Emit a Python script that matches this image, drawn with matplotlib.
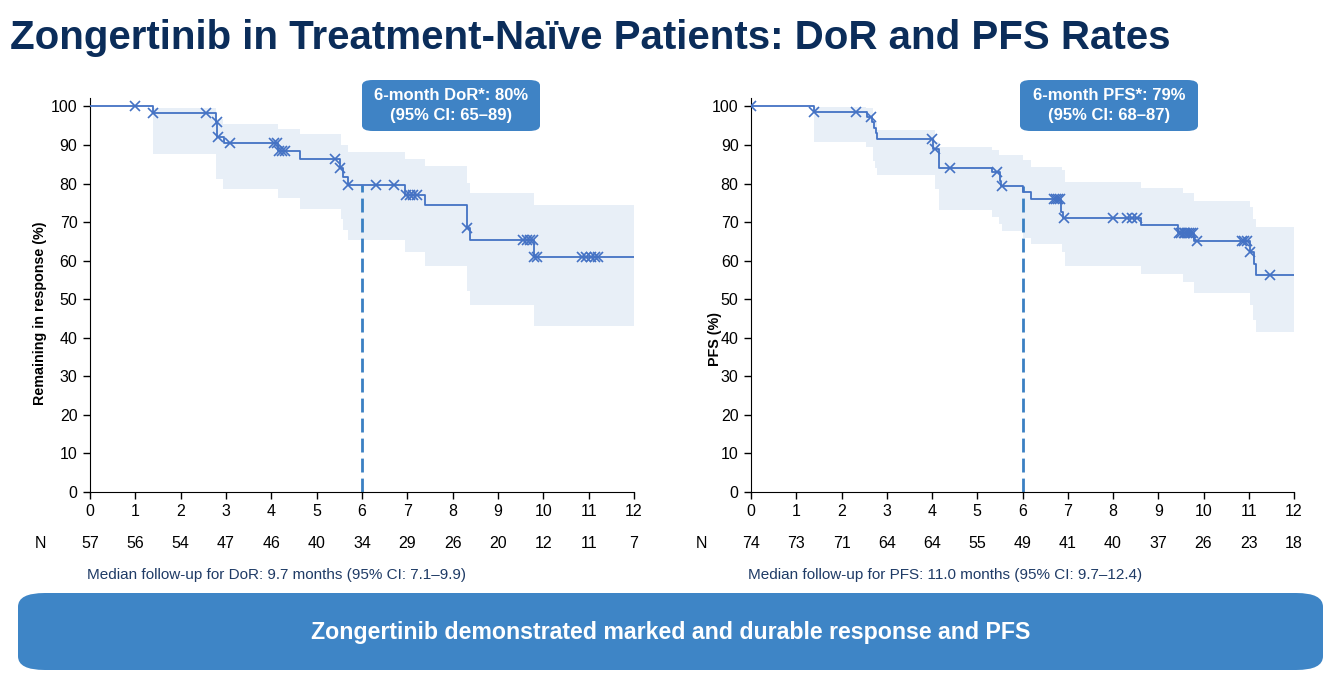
import numpy as np
import matplotlib
matplotlib.use("Agg")
import matplotlib.pyplot as plt
from matplotlib.patches import FancyBboxPatch
from matplotlib import transforms

plt.rcParams['font.family'] = ['Liberation Sans', 'DejaVu Sans']

# ---- DoR (left panel) ----
dor_t = [0, 1.38, 2.79, 2.81, 2.95, 4.15, 4.64, 5.52, 5.57, 5.69, 6.95, 7.40, 8.32, 8.38, 9.80, 12.0]
dor_s = [100, 98.2, 96.0, 92.2, 90.4, 88.4, 86.3, 84.0, 81.7, 79.6, 77.1, 74.4, 68.4, 65.3, 61.0, 61.0]
dor_censor = [0.99, 1.40, 2.56, 2.80, 2.83, 3.09, 4.05, 4.12, 4.18, 4.24, 4.30, 5.40, 5.52, 5.69,
              6.31, 6.71, 6.96, 7.06, 7.13, 7.21, 8.32, 9.56, 9.63, 9.70, 9.78, 9.80, 9.86,
              10.85, 10.95, 11.05, 11.13, 11.21]
dor_ci_t = [1.38, 2.79, 2.94, 4.15, 4.64, 5.53, 5.57, 5.69, 6.95, 7.40, 8.32, 8.38, 9.80, 12.0]
dor_ci_hi = [99.5, 96.8, 95.5, 94.2, 92.9, 89.9, 89.9, 88.3, 86.3, 84.5, 80.1, 77.6, 74.5, 74.5]
dor_ci_lo = [87.6, 81.3, 78.7, 76.3, 73.5, 70.9, 67.9, 65.3, 62.3, 58.6, 52.2, 48.4, 43.0, 43.0]
dor_n = [57, 56, 54, 47, 46, 40, 34, 29, 26, 20, 12, 11, 7]

# ---- PFS (right panel) ----
pfs_t = [0, 1.40, 2.56, 2.68, 2.72, 2.76, 2.79, 4.02, 4.16, 5.32, 5.50, 5.53, 6.02, 6.18,
         6.86, 6.90, 8.61, 9.44, 9.78, 11.02, 11.12, 11.16, 12.0]
pfs_s = [100, 98.6, 97.3, 95.9, 94.5, 93.0, 91.6, 89.0, 84.0, 83.1, 80.8, 79.5, 77.8, 76.1,
         72.7, 71.2, 69.3, 67.3, 65.1, 62.3, 59.2, 56.2, 56.2]
pfs_censor = [0.01, 1.40, 2.32, 2.65, 4.00, 4.07, 4.40, 5.44, 5.55, 6.70, 6.74, 6.78, 6.82, 6.92,
              7.99, 8.30, 8.41, 8.52, 9.46, 9.51, 9.56, 9.60, 9.64, 9.68, 9.72, 9.76, 9.85,
              10.84, 10.90, 10.96, 11.03, 11.48]
pfs_ci_t = [1.40, 2.54, 2.70, 2.74, 2.79, 4.07, 4.16, 5.32, 5.48, 5.55, 6.02, 6.18, 6.87, 6.94,
            8.61, 9.54, 9.78, 11.03, 11.09, 11.16, 12.0]
pfs_ci_hi = [99.8, 99.5, 96.1, 96.1, 94.0, 90.8, 89.5, 88.6, 87.3, 87.3, 86.0, 84.2, 83.4, 80.4,
             78.9, 77.5, 75.5, 73.9, 70.9, 68.7, 68.7]
pfs_ci_lo = [90.8, 89.5, 85.8, 84.0, 82.1, 78.5, 73.1, 71.3, 69.6, 67.6, 66.0, 64.2, 62.3, 58.5,
             56.5, 54.5, 51.5, 48.4, 44.6, 41.5, 41.5]
pfs_n = [74, 73, 71, 64, 64, 55, 49, 41, 40, 37, 26, 23, 18]

months = list(range(0, 13))

LINE = '#4472C4'
BAND = '#E8EFF7'
BOX = '#3F83C5'
NAVY = '#0B2D5A'
TEXTNAVY = '#1F3B66'


def level_at(t, s, x):
    i = np.searchsorted(t, x, side='right') - 1
    return np.asarray(s)[i]


fig = plt.figure(figsize=(13.4, 6.85), dpi=100)

fig.text(0.0075, 1 - 38 / 685, "Zongertinib in Treatment-Naïve Patients: DoR and PFS Rates",
         fontsize=29, fontweight='bold', color=NAVY, va='center', ha='left')


def km_panel(rect, t, s, cens, ci_t, ci_hi, ci_lo, n, ylabel, ylab_pos, box_lines, box_x, follow):
    ax = fig.add_axes(rect)
    ax.fill_between(ci_t, ci_lo, ci_hi, step='post', color=BAND, lw=0)
    ax.step(t, s, where='post', color=LINE, lw=1.3, zorder=3)
    ax.plot(cens, level_at(t, s, cens), 'x', color=LINE, ms=7, mew=1.2, zorder=4)
    y6 = level_at(t, s, 6.0)
    ax.plot([6, 6], [0, y6], color='#3A80C3', lw=2, dashes=(5, 2.2), zorder=2)

    ax.set_xlim(0, 12)
    ax.set_ylim(0, 102.2)
    ax.set_xticks(months)
    ax.set_yticks(range(0, 101, 10))
    ax.tick_params(labelsize=11.5, length=5, width=1, direction='out', pad=4)
    for side in ['top', 'right']:
        ax.spines[side].set_visible(False)
    ax.set_ylabel(ylabel, fontsize=10.3, fontweight='bold')
    ax.yaxis.set_label_coords(*ylab_pos)

    # number at risk row
    tr = transforms.blended_transform_factory(ax.transData, fig.transFigure)
    for m, v in zip(months, n):
        ax.text(m, 0.206, str(v), transform=tr, ha='center', va='center', fontsize=11.5, clip_on=False)
    ax.text(-1.1, 0.206, "N", transform=tr, ha='center', va='center', fontsize=11.5, clip_on=False)
    ax.text(-0.07, 0.160, follow, transform=tr, ha='left', va='center', fontsize=11,
            color=TEXTNAVY, clip_on=False)

    # 6-month box
    bx0, by0, bw, bh = box_x, 1 - 131 / 685, 178 / 1340, 51 / 685
    fig.patches.append(FancyBboxPatch((bx0, by0), bw, bh, boxstyle='round,pad=0,rounding_size=0.008',
                                      transform=fig.transFigure, fc=BOX, ec='none', zorder=5))
    fig.text(bx0 + bw / 2, by0 + bh * 0.70, box_lines[0], ha='center', va='center',
             fontsize=12, fontweight='bold', color='white', zorder=6)
    fig.text(bx0 + bw / 2, by0 + bh * 0.30, box_lines[1], ha='center', va='center',
             fontsize=12, fontweight='bold', color='white', zorder=6)
    return ax


ax1 = km_panel([90 / 1340, 1 - 492 / 685, 544 / 1340, 394 / 685],
               dor_t, dor_s, dor_censor, dor_ci_t, dor_ci_hi, dor_ci_lo, dor_n,
               "Remaining in response (%)", (-0.079, 0.454),
               ["6-month DoR*: 80%", "(95% CI: 65\u201389)"], 362 / 1340,
               "Median follow-up for DoR: 9.7 months (95% CI: 7.1\u20139.9)")

ax2 = km_panel([751 / 1340, 1 - 492 / 685, 543 / 1340, 394 / 685],
               pfs_t, pfs_s, pfs_censor, pfs_ci_t, pfs_ci_hi, pfs_ci_lo, pfs_n,
               "PFS (%)", (-0.054, 0.388),
               ["6-month PFS*: 79%", "(95% CI: 68\u201387)"], 1020 / 1340,
               "Median follow-up for PFS: 11.0 months (95% CI: 9.7\u201312.4)")

# bottom banner
fig.patches.append(FancyBboxPatch((18 / 1340, 1 - 670 / 685), 1305 / 1340, 77 / 685,
                                  boxstyle='round,pad=0,rounding_size=0.02',
                                  transform=fig.transFigure, fc='#3E85C6', ec='none'))
fig.text(671 / 1340, 1 - 633 / 685, "Zongertinib demonstrated marked and durable response and PFS",
         ha='center', va='center', fontsize=16.7, fontweight='bold', color='white')

fig.savefig("out.png", dpi=100)
